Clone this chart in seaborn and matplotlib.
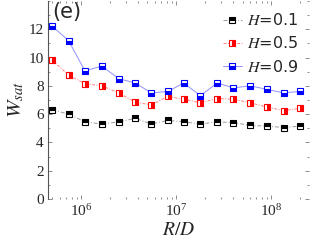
import numpy as np
import pandas as pd
import matplotlib
matplotlib.use("Agg")
import matplotlib.pyplot as plt
import seaborn as sns
from matplotlib.ticker import MultipleLocator, LogLocator, NullFormatter

# data
ratio_RD = [5.0e5, 7.4e5, 1.1e6, 1.65e6, 2.5e6, 3.7e6, 5.5e6, 8.2e6,
            1.2e7, 1.8e7, 2.7e7, 4.0e7, 6.0e7, 9.0e7, 1.35e8, 2.0e8]
w_h01 = [6.3, 6.0, 5.45, 5.3, 5.45, 5.7, 5.3, 5.55, 5.45, 5.3, 5.45, 5.4, 5.2, 5.15, 5.05, 5.15]
w_h05 = [9.8, 8.75, 8.15, 8.0, 7.5, 6.85, 6.65, 7.25, 7.05, 6.8, 7.1, 7.05, 6.8, 6.5, 6.25, 6.4]
w_h09 = [12.2, 11.2, 9.05, 9.4, 8.5, 8.2, 7.5, 7.6, 8.2, 7.3, 8.2, 7.85, 8.0, 7.75, 7.5, 7.6]
labels = ["$H$=0.1", "$H$=0.5", "$H$=0.9"]
yticks = [0, 2, 4, 6, 8, 10, 12]

sns.set_style("ticks")
plt.rcParams["font.family"] = ["Liberation Serif", "DejaVu Sans"]
plt.rcParams["mathtext.fontset"] = "stix"

fig = plt.figure(figsize=(3.16, 2.42), dpi=100)
ax = fig.add_axes([0.152, 0.178, 0.826, 0.818])

# series styles: marker color, line color, line style, marker fill
styles = [
    ("#000000", "#9a9a9a", (0, (4, 2, 1, 2)), "top"),
    ("#ff0000", "#ff8080", (0, (3, 1.5, 1, 1.5)), "right"),
    ("#0000ff", "#9090ff", "-", "bottom"),
]

for y, lab, (mc, lc, ls, fs) in zip([w_h01, w_h05, w_h09], labels, styles):
    df = pd.DataFrame({"x": ratio_RD, "y": y})
    sns.lineplot(data=df, x="x", y="y", ax=ax, label=lab, color=lc,
                 linestyle=ls, linewidth=0.7, marker="s", markersize=4.5,
                 markerfacecolor=mc, markeredgecolor=mc, markeredgewidth=0.8,
                 fillstyle=fs, markerfacecoloralt="white")

ax.set_xscale("log")
ax.set_xlim(4.5e5, 2.5e8)
ax.set_ylim(0, 14)
ax.set_yticks(yticks)
ax.yaxis.set_minor_locator(MultipleLocator(1))
ax.xaxis.set_minor_locator(LogLocator(base=10, subs=np.arange(2, 10)))
ax.xaxis.set_minor_formatter(NullFormatter())

for side in ["top", "right", "bottom"]:
    ax.spines[side].set_visible(False)
ax.spines["left"].set_color("#555555")
ax.spines["left"].set_linewidth(0.8)

ax.tick_params(which="both", direction="in", top=True, right=True,
               color="#777777", width=0.6, labelsize=11, pad=3)
ax.tick_params(which="major", length=3)
ax.tick_params(which="minor", length=1.5)

ax.set_xlabel("$R/D$", fontsize=14, labelpad=2)
ax.set_ylabel("$W_{sat}$", fontsize=15, labelpad=2)
ax.text(0.015, 0.995, "(e)", transform=ax.transAxes, ha="left", va="top",
        fontsize=15, family="DejaVu Sans")

leg = ax.legend(loc="upper right", frameon=False, handlelength=1.2,
                handletextpad=0.3, labelspacing=0.45, borderaxespad=0.3,
                prop={"family": "DejaVu Sans", "size": 11.5})

fig.savefig("out.png", dpi=100)
